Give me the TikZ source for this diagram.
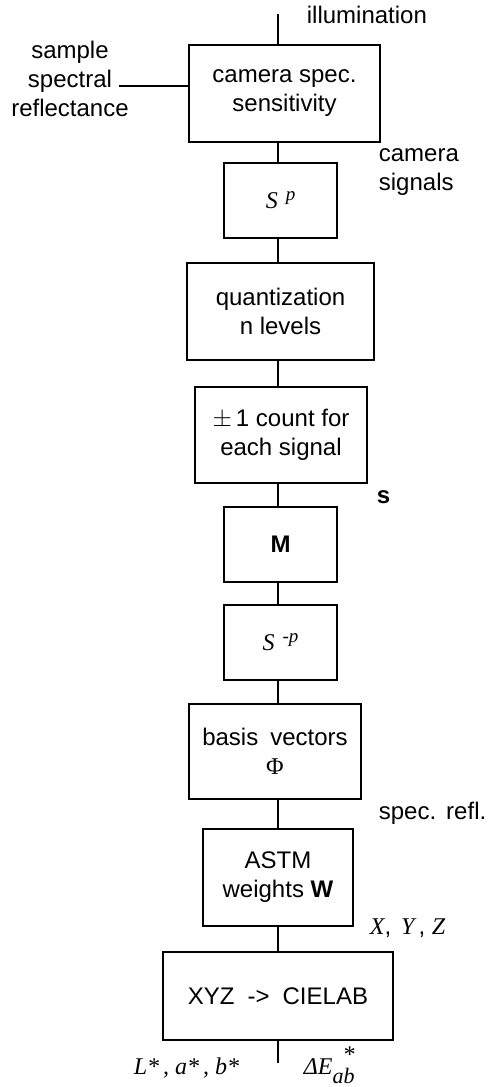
\documentclass[tikz,border=0pt]{standalone}
\usepackage{fontspec}
\setmainfont{Liberation Sans}
\newfontfamily\tms{Liberation Serif}
\newcommand{\ital}[1]{{\tms\itshape #1}}
\newcommand{\raisedp}[1]{\raisebox{0.33em}{\fontsize{19}{19}\selectfont\ital{#1}}}

\begin{document}
\begin{tikzpicture}[x=1pt, y=-1pt, line width=1.8pt, inner sep=0pt,
    font=\fontsize{24}{29}\selectfont,
    blk/.style={draw, align=center}]
		\useasboundingbox (0,0) rectangle (488,1087);
		\coordinate (axis) at (278,0);
		\coordinate (illum) at (278,14);
		\coordinate (refl) at (119,86);
		\coordinate (out) at (278,1063);
		% boxes
		\node [blk, minimum width=191, minimum height=97] (cam) at (284.5,93.5) {camera spec.\\sensitivity};
		\node [blk, minimum width=113, minimum height=75] (sp) at (280.5,200.5) {\ital{S}\hspace{8pt}\raisedp{p}};
		\node [blk, minimum width=187, minimum height=97] (quant) at (280.5,311.5) {quantization\\n levels\hspace{12pt}};
		\node [blk, minimum width=172, minimum height=96] (count) at (281,435) {$\pm$\,1 count for\\each signal};
		\node [blk, minimum width=113, minimum height=75] (M) at (280.5,544.5) {\textbf{M}};
		\node [blk, minimum width=113, minimum height=75] (spinv) at (280.5,642.5) {\ital{S}\hspace{8pt}\raisedp{-p}};
		\node [blk, minimum width=172, minimum height=95] (basis) at (275,751.5) {basis\hspace{12pt}vectors\\{\tms Φ}};
		\node [blk, minimum width=150, minimum height=97] (astm) at (278,877.5) {ASTM\\weights \textbf{W}};
		\node [blk, minimum width=230, minimum height=88] (lab) at (278,996) {XYZ\hspace{13pt}->\hspace{13pt}CIELAB};
		% connectors
		\draw (illum) -- (illum |- cam.north);
		\draw (refl) -- (refl -| cam.west);
		\draw (cam.south -| axis) -- (sp.north -| axis);
		\draw (sp.south -| axis) -- (quant.north -| axis);
		\draw (quant.south -| axis) -- (count.north -| axis);
		\draw (count.south -| axis) -- (M.north -| axis);
		\draw (M.south -| axis) -- (spinv.north -| axis);
		\draw (spinv.south -| axis) -- (basis.north -| axis);
		\draw (basis.south -| axis) -- (astm.north -| axis);
		\draw (astm.south -| axis) -- (lab.north -| axis);
		\draw (lab.south -| axis) -- (out);
		% labels
		\node [anchor=base west] (illumtxt) at (306,23) {illumination};
		\node [align=center] (refltxt) at (70,79) {sample\\spectral\\reflectance};
		\node [anchor=west, align=left] (sigtxt) at (378,172) {camera\\signals};
		\node [anchor=base west] (stxt) at (376,503) {\textbf{s}};
		\node [anchor=base west] (refltxt2) at (378,819) {spec.\hspace{10pt}refl.};
		\node [anchor=base west] (xyztxt) at (369,934) {\ital{X},\hspace{10pt}\ital{Y}\,,\ \ital{Z}};
		\node [anchor=base west] (labtxt) at (133,1074) {\ital{L*\,, a*\,, b*}};
		\node [anchor=base west] (detxt) at (303,1074) {\ital{ΔE}\raisebox{-0.38em}{\fontsize{22}{22}\selectfont\ital{ab}}\llap{\raisebox{0.46em}{\ital{*}}}};
\end{tikzpicture}
\end{document}
